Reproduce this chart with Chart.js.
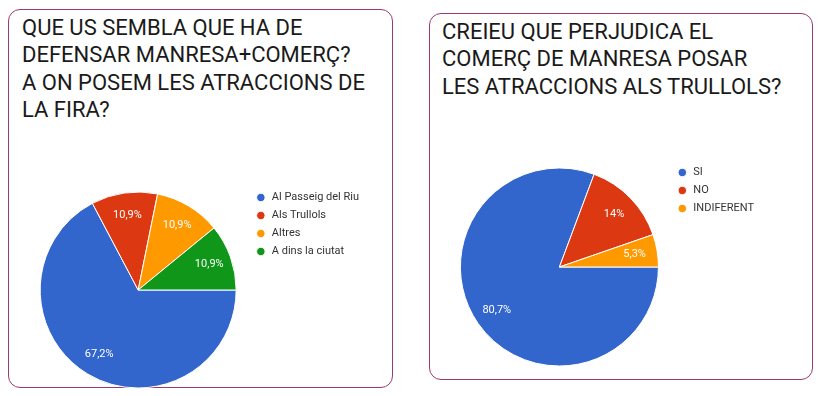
<!DOCTYPE html>
<html>
<head>
    <title>Enquesta fira</title>
    <script src="https://cdn.jsdelivr.net/npm/chart.js"></script>
    <style>
        body { margin: 0; background: #fff; width: 827px; height: 396px; position: relative; overflow: hidden; font-family: Roboto, sans-serif; }
        .card { position: absolute; border: 1px solid #9c3a6a; border-radius: 12px; box-sizing: border-box; }
        .title { position: absolute; margin: 0; font-weight: 400; font-size: 22px; line-height: 27.3px; color: #1a1a1a; white-space: nowrap; }
        .chart { position: absolute; }
    </style>
</head>
<body>
    <div class="card" style="left:8px; top:9px; width:385px; height:379px;"></div>
    <div class="card" style="left:429px; top:13px; width:384px; height:367px;"></div>

    <p class="title" style="left:22px; top:14px;">QUE US SEMBLA QUE HA DE<br>DEFENSAR MANRESA+COMERÇ?<br>A ON POSEM LES ATRACCIONS DE<br>LA FIRA?</p>
    <p class="title" style="left:442px; top:18px;">CREIEU QUE PERJUDICA EL<br>COMERÇ DE MANRESA POSAR<br>LES ATRACCIONS ALS TRULLOLS?</p>

    <div class="chart" id="firaBox" style="left:28px; top:185px; height:210px;">
        <canvas id="firaChart"></canvas>
    </div>
    <div class="chart" id="comercBox" style="left:449px; top:160px; height:214px;">
        <canvas id="comercChart"></canvas>
    </div>

    <script>
    // Pregunta 1: on posem les atraccions
    const firaLabels = ['Al Passeig del Riu', 'Als Trullols', 'Altres', 'A dins la ciutat'];
    const firaValues = [67.2, 10.9, 10.9, 10.9];
    const firaColors = ['#3366cc', '#dc3912', '#ff9900', '#109618'];

    // Pregunta 2: perjudica el comerç
    const comercLabels = ['SI', 'NO', 'INDIFERENT'];
    const comercValues = [80.7, 14, 5.3];
    const comercColors = ['#3366cc', '#dc3912', '#ff9900'];

    const legendFont = { family: 'Roboto', size: 11 };
    const legendPad = 7, legendBox = 11;

    // percentatge escrit dins de cada porció
    const sliceLabels = {
        id: 'sliceLabels',
        afterDatasetsDraw(chart) {
            const ctx = chart.ctx;
            const meta = chart.getDatasetMeta(0);
            const data = chart.data.datasets[0].data;
            ctx.save();
            ctx.fillStyle = '#ffffff';
            ctx.font = '11px Roboto';
            ctx.textAlign = 'center';
            ctx.textBaseline = 'middle';
            meta.data.forEach(function(arc, i) {
                const p = arc.getProps(['x', 'y', 'startAngle', 'endAngle', 'outerRadius'], true);
                const mid = (p.startAngle + p.endAngle) / 2;
                const r = p.outerRadius * 0.77;
                const txt = String(data[i]).replace('.', ',') + '%';
                ctx.fillText(txt, p.x + Math.cos(mid) * r, p.y + Math.sin(mid) * r);
            });
            ctx.restore();
        }
    };

    // the legend takes its own width on the right, so size the box to keep the pie area fixed
    function legendWidth(labels) {
        const ctx = document.createElement('canvas').getContext('2d');
        ctx.font = legendFont.size + 'px ' + legendFont.family;
        let w = 0;
        labels.forEach(function(l) { w = Math.max(w, ctx.measureText(l).width); });
        return legendPad + legendBox + legendFont.size / 2 + w + 10;
    }

    function makePie(id, boxId, labels, values, colors, radius) {
        document.getElementById(boxId).style.width = (220 + Math.ceil(legendWidth(labels)) + 4) + 'px';
        return new Chart(document.getElementById(id), {
            type: 'pie',
            data: {
                labels: labels,
                datasets: [{
                    data: values,
                    backgroundColor: colors,
                    borderColor: '#ffffff',
                    borderWidth: 1,
                    radius: radius
                }]
            },
            options: {
                responsive: true,
                maintainAspectRatio: false,
                animation: false,
                rotation: 90,
                layout: { padding: { right: 4 } },
                plugins: {
                    tooltip: { enabled: false },
                    legend: {
                        position: 'right',
                        align: 'start',
                        labels: {
                            usePointStyle: true,
                            pointStyle: 'circle',
                            boxWidth: legendBox,
                            boxHeight: 6,
                            padding: legendPad,
                            color: '#333333',
                            font: legendFont
                        }
                    }
                }
            },
            plugins: [sliceLabels]
        });
    }

    makePie('firaChart', 'firaBox', firaLabels, firaValues, firaColors, 98);
    makePie('comercChart', 'comercBox', comercLabels, comercValues, comercColors, 99);
    </script>
</body>
</html>
